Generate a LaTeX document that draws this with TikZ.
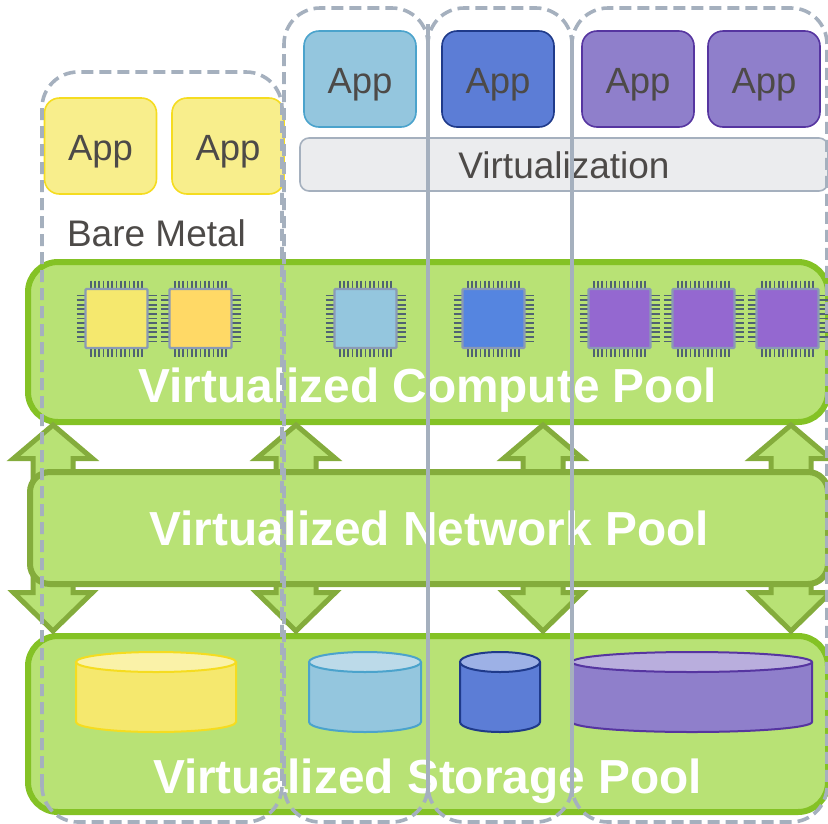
\documentclass[tikz,border=0pt]{standalone}
\usepackage{fontspec}
\setmainfont{Liberation Sans}
\definecolor{txt}{HTML}{4D4A48}
\definecolor{poolfill}{HTML}{B8E275}
\definecolor{poolline}{HTML}{84C225}
\definecolor{netline}{HTML}{84AC3C}
\definecolor{dashc}{HTML}{A5B0BE}
\definecolor{yfill}{HTML}{F5E86E}
\definecolor{yapp}{HTML}{F8EE8C}
\definecolor{yline}{HTML}{F5DC20}
\definecolor{ytop}{HTML}{FAF2A8}
\definecolor{ofill}{HTML}{FFD966}
\definecolor{lfill}{HTML}{94C6DE}
\definecolor{lline}{HTML}{4BA3CC}
\definecolor{ltop}{HTML}{BCDAE9}
\definecolor{bfill}{HTML}{5C7DD6}
\definecolor{bline}{HTML}{1F3A8A}
\definecolor{btop}{HTML}{9DB1E6}
\definecolor{bchip}{HTML}{5585E0}
\definecolor{pfill}{HTML}{8F7FCB}
\definecolor{pline}{HTML}{5635A0}
\definecolor{ptop}{HTML}{B9AEDD}
\definecolor{pchip}{HTML}{9468D0}
\definecolor{chipedge}{HTML}{8A9AB5}
\definecolor{pincol}{HTML}{4F6272}
\definecolor{virtfill}{HTML}{EBECEE}
\tikzset{
  appbox/.style={draw=#1,line width=1.6pt,rounded corners=15pt,minimum width=112pt,minimum height=96pt,inner sep=0pt,text=txt,text height=28pt,text depth=0pt,font=\fontsize{36.5}{40}\selectfont},
  pool/.style={draw=#1,fill=poolfill,line width=6pt,inner sep=0pt},
  pooltitle/.style={anchor=base,text=white,inner sep=0pt,font=\fontsize{47.8}{50}\selectfont\bfseries},
  greybox/.style={draw=dashc,line width=3.6pt,dash pattern=on 12pt off 6pt,rounded corners=36pt},
  blockarrow/.style={draw=netline,fill=poolfill,line width=5pt,miter limit=10},
  plaintext/.style={anchor=base,text=txt,inner sep=0pt,font=\fontsize{37}{40}\selectfont},
  chipbody/.style={draw=chipedge,line width=2.4pt,rounded corners=1pt,fill=#1,minimum width=62pt,minimum height=59pt,inner sep=0pt},
  chippin/.style={draw=pincol,line width=1.7pt},
}
\newcommand{\arrowup}[1]{\draw[blockarrow] (#1-20,480)--(#1-20,458.5)--(#1-39.5,458.5)--(#1,425)--(#1+39.5,458.5)--(#1+20,458.5)--(#1+20,480)--cycle;}
\newcommand{\arrowdown}[1]{\draw[blockarrow] (#1-20,578)--(#1-20,592.5)--(#1-39.5,592.5)--(#1,631)--(#1+39.5,592.5)--(#1+20,592.5)--(#1+20,578)--cycle;}
\newcommand{\chip}[4]{%
  \foreach \k in {-6,...,6}{
    \draw[chippin] (#2+\k*4.3,#3-38)--(#2+\k*4.3,#3-30);
    \draw[chippin] (#2+\k*4.3,#3+30)--(#2+\k*4.3,#3+38);
  }
  \foreach \k in {-5,...,5}{
    \draw[chippin] (#2-40,#3+\k*4.6)--(#2-30,#3+\k*4.6);
    \draw[chippin] (#2+30,#3+\k*4.6)--(#2+40,#3+\k*4.6);
  }
  \node[chipbody=#4] (#1) at (#2,#3) {};
}
\newcommand{\cyl}[7]{% x1 x2 ytop ybot fill top line
  \pgfmathsetmacro{\rxv}{(#2-#1)/2}
  \pgfmathsetmacro{\cxv}{(#2+#1)/2}
  \draw[draw=#7,fill=#5,line width=2pt] (#1,#3)--(#1,#4) arc[x radius=\rxv,y radius=10,start angle=180,end angle=0] --(#2,#3);
  \draw[draw=#7,fill=#6,line width=2pt] (\cxv,#3) ellipse[x radius=\rxv,y radius=10];
}
\begin{document}
\begin{tikzpicture}[x=1pt,y=-1pt]
\useasboundingbox (0,0) rectangle (828,823);
\clip (0,0) rectangle (828,823);
% apps
\node[appbox=yline,fill=yapp] (a1) at (100.5,146) {App};
\node[appbox=yline,fill=yapp] (a2) at (228,146) {App};
\node[appbox=lline,fill=lfill] (a3) at (360,79) {App};
\node[appbox=bline,fill=bfill] (a4) at (498,79) {App};
\node[appbox=pline,fill=pfill] (a5) at (638,79) {App};
\node[appbox=pline,fill=pfill] (a6) at (764,79) {App};
\node[draw=dashc,fill=virtfill,line width=1.6pt,rounded corners=9pt,minimum width=528pt,minimum height=53pt,inner sep=0pt] (virtbox) at (564,164.5) {};
\node[plaintext] (virt) at (564,178) {Virtualization};
\node[plaintext] (bare) at (156.5,246) {Bare Metal};
% pools
\node[pool=poolline,rounded corners=30pt,minimum width=800pt,minimum height=160pt] (compute) at (428,342) {};
\node[pool=poolline,rounded corners=30pt,minimum width=800pt,minimum height=176pt] (storage) at (428,724) {};
\arrowup{53}\arrowup{296}\arrowup{543}\arrowup{791}
\arrowdown{53}\arrowdown{296}\arrowdown{543}\arrowdown{791}
\node[pool=netline,rounded corners=20pt,minimum width=798pt,minimum height=112pt] (network) at (429,528) {};
% chips
\chip{c1}{116.5}{318.5}{yfill}
\chip{c2}{200.5}{318.5}{ofill}
\chip{c3}{365.5}{318.5}{lfill}
\chip{c4}{493.5}{318.5}{bchip}
\chip{c5}{619.5}{318.5}{pchip}
\chip{c6}{703.5}{318.5}{pchip}
\chip{c7}{787.5}{318.5}{pchip}
% cylinders
\cyl{76}{236}{662}{722}{yfill}{ytop}{yline}
\cyl{309}{421}{662}{722}{lfill}{ltop}{lline}
\cyl{460}{540}{662}{722}{bfill}{btop}{bline}
\cyl{572}{812}{662}{722}{pfill}{ptop}{pline}
% titles
\node[pooltitle] (t1) at (427.5,402) {Virtualized Compute Pool};
\node[pooltitle] (t2) at (429,545) {Virtualized Network Pool};
\node[pooltitle] (t3) at (427.5,793) {Virtualized Storage Pool};
% dashed groups
\draw[greybox] (42,822) rectangle (282,72);
\draw[greybox] (284,822) rectangle (428,8);
\draw[greybox] (428,822) rectangle (572,8);
\draw[greybox] (572,822) rectangle (827,8);
\draw[dashc,line width=3.6pt] (428,24)--(428,797);
\draw[dashc,line width=3.6pt] (572,36)--(572,797);
\end{tikzpicture}
\end{document}
